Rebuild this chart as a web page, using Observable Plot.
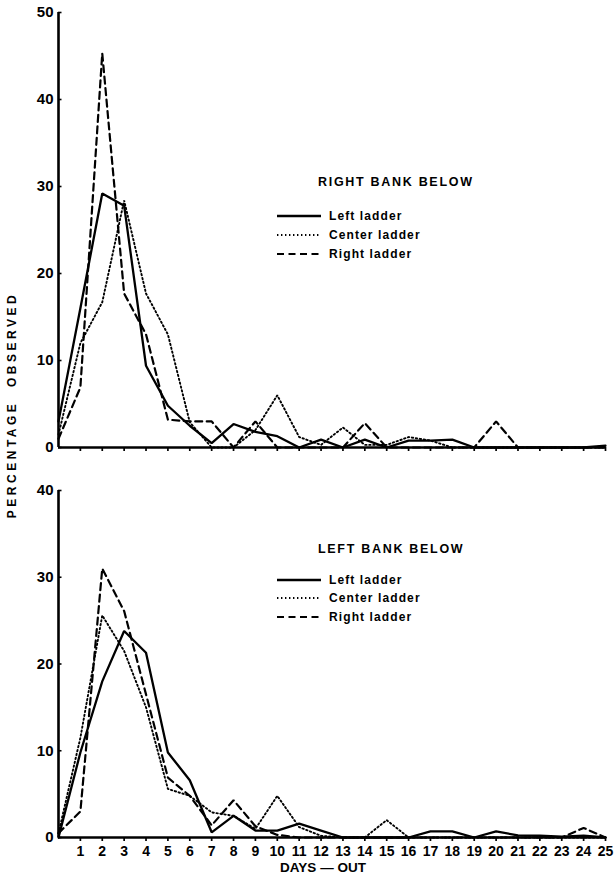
<!DOCTYPE html>
<html><head><meta charset="utf-8">
<script src="https://cdn.jsdelivr.net/npm/d3@7"></script>
<script src="https://cdn.jsdelivr.net/npm/@observablehq/plot@0.6"></script>
<style>
body{margin:0;background:#fff;}
#wrap{position:relative;width:615px;height:880px;font-family:"Liberation Sans",Arial,sans-serif;font-weight:bold;color:#000;overflow:hidden;}
.title{position:absolute;font-size:12.5px;letter-spacing:1.7px;white-space:nowrap;line-height:1;}
.leg{position:absolute;font-size:12px;letter-spacing:1.1px;white-space:nowrap;line-height:1;display:flex;align-items:center;}
.leg svg{margin-right:8px;}
.ylab{position:absolute;left:12px;top:405px;transform:translate(-50%,-50%) rotate(-90deg);font-size:12px;letter-spacing:3.5px;white-space:pre;}
</style></head><body><div id="wrap"></div>
<script>
const days = [0,1,2,3,4,5,6,7,8,9,10,11,12,13,14,15,16,17,18,19,20,21,22,23,24,25];
const xTickLabels = ["1","2","3","4","5","6","7","8","9","10","11","12","13","14","15","16","17","18","19","20","21","22","23","24","25"];
const yTicksTop = [0,10,20,30,40,50];
const yTicksBottom = [0,10,20,30,40];
const seriesNames = ["Left ladder","Center ladder","Right ladder"];
const topTitle = "RIGHT BANK BELOW";
const bottomTitle = "LEFT BANK BELOW";
const yLabel = "PERCENTAGE  OBSERVED";
const xLabel = "DAYS — OUT";

// Right bank below (top panel), values for days 0..25
const topLeft   = [3, 16, 29.2, 27.8, 9.4, 4.8, 2.5, 0.5, 2.7, 1.8, 1.3, 0, 0.9, 0, 0.9, 0, 0.8, 0.8, 0.9, 0, 0, 0, 0, 0, 0, 0.2];
const topCenter = [1.5, 12, 16.7, 28.4, 17.7, 13, 2.9, 0, 0, 2, 6, 1.2, 0.3, 2.3, 0.3, 0.3, 1.2, 0.8, 0, 0, 0, 0, 0, 0, 0, 0];
const topRight  = [1, 6.9, 45.3, 17.7, 13, 3.2, 3, 3, 0, 3, 0, 0, 0, 0, 2.8, 0, 0, 0, 0, 0, 3, 0, 0, 0, 0, 0];

// Left bank below (bottom panel)
const botLeft   = [0, 9.8, 18, 23.8, 21.3, 9.8, 6.6, 0.6, 2.5, 0.8, 0.8, 1.6, 0.8, 0, 0, 0, 0, 0.7, 0.7, 0, 0.7, 0.25, 0.2, 0.1, 0.2, 0];
const botCenter = [0.5, 11.5, 25.6, 21.5, 15, 5.6, 4.8, 2.9, 2.5, 1, 4.8, 1.2, 0.2, 0, 0, 2, 0, 0, 0, 0, 0, 0, 0, 0, 0, 0];
const botRight  = [0.5, 3, 31, 26.1, 16.5, 6.9, 4.8, 1.4, 4.3, 1.3, 0.3, 0, 0, 0, 0, 0, 0, 0, 0, 0, 0, 0, 0, 0, 1.1, 0];

const lineStyles = [
  {strokeWidth: 2.3, strokeDasharray: null},
  {strokeWidth: 1.9, strokeDasharray: "1.4,2.6"},
  {strokeWidth: 2.2, strokeDasharray: "7,4.5"}
];

const wrap = document.getElementById("wrap");
const font = '"Liberation Sans", Arial, sans-serif';

function panel(series, yTicks, showLabels, dims) {
  const tables = series.map(vals => days.map((d, i) => ({day: d, value: vals[i]})));
  const marks = [
    Plot.ruleY(yTicks, {x1: 0, x2: 0.16, strokeWidth: 1.6}),
    Plot.axisY(yTicks, {tickSize: 0, tickPadding: 5, label: null, fontSize: 15, fontWeight: "bold"}),
    Plot.axisX(days.slice(1), {tickSize: 4, strokeWidth: 1.7, tickPadding: 5, label: null, fontSize: 14, fontWeight: "bold",
      tickFormat: showLabels ? (d => xTickLabels[d - 1]) : (() => "")}),
    ...tables.map((t, i) => Plot.line(t, {x: "day", y: "value", stroke: "black", strokeLinejoin: "miter", ...lineStyles[i]})),
    Plot.ruleX([0], {strokeWidth: 2.6}),
    Plot.ruleY([0], {strokeWidth: 2.6})
  ];
  if (showLabels) marks.push(Plot.text([xLabel], {frameAnchor: "bottom", dx: -9, dy: 34, fontSize: 13.5, fontWeight: "bold", text: d => d, style: "letter-spacing:2.2px"}));
  return Plot.plot({
    width: 615, height: dims.height,
    marginLeft: 58, marginRight: 10, marginTop: dims.mt, marginBottom: dims.mb,
    x: {domain: [0, 25]},
    y: {domain: [0, yTicks[yTicks.length - 1]]},
    style: {fontFamily: font, fontWeight: "bold", color: "black", background: "transparent", overflow: "visible"},
    marks
  });
}

const topPanel = panel([topLeft, topCenter, topRight], yTicksTop, false, {height: 465, mt: 12, mb: 18});
topPanel.style.position = "absolute";
topPanel.style.left = "0px";
topPanel.style.top = "0px";
wrap.appendChild(topPanel);
const botPanel = panel([botLeft, botCenter, botRight], yTicksBottom, true, {height: 415, mt: 25, mb: 43});
botPanel.style.position = "absolute";
botPanel.style.left = "0px";
botPanel.style.top = "465px";
wrap.appendChild(botPanel);

function addTitle(text, x, y) {
  const d = document.createElement("div");
  d.className = "title"; d.textContent = text;
  d.style.left = x + "px"; d.style.top = (y - 7) + "px";
  wrap.appendChild(d);
}
function addLegend(x, ys, lineW) {
  seriesNames.forEach((name, i) => {
    const d = document.createElement("div");
    d.className = "leg";
    d.style.left = x + "px"; d.style.top = (ys[i] - 6) + "px";
    const s = lineStyles[i];
    d.innerHTML = `<svg width="${lineW}" height="12"><line x1="0" x2="${lineW}" y1="6" y2="6" stroke="black" stroke-width="${s.strokeWidth}" ${s.strokeDasharray ? `stroke-dasharray="${s.strokeDasharray}"` : ""}/></svg><span>${name}</span>`;
    wrap.appendChild(d);
  });
}
addTitle(topTitle, 318, 183);
addLegend(277, [216, 235, 254], 44);
addTitle(bottomTitle, 318, 550);
addLegend(277, [580, 598, 617], 44);

const yl = document.createElement("div");
yl.className = "ylab"; yl.textContent = yLabel;
wrap.appendChild(yl);
</script></body></html>
